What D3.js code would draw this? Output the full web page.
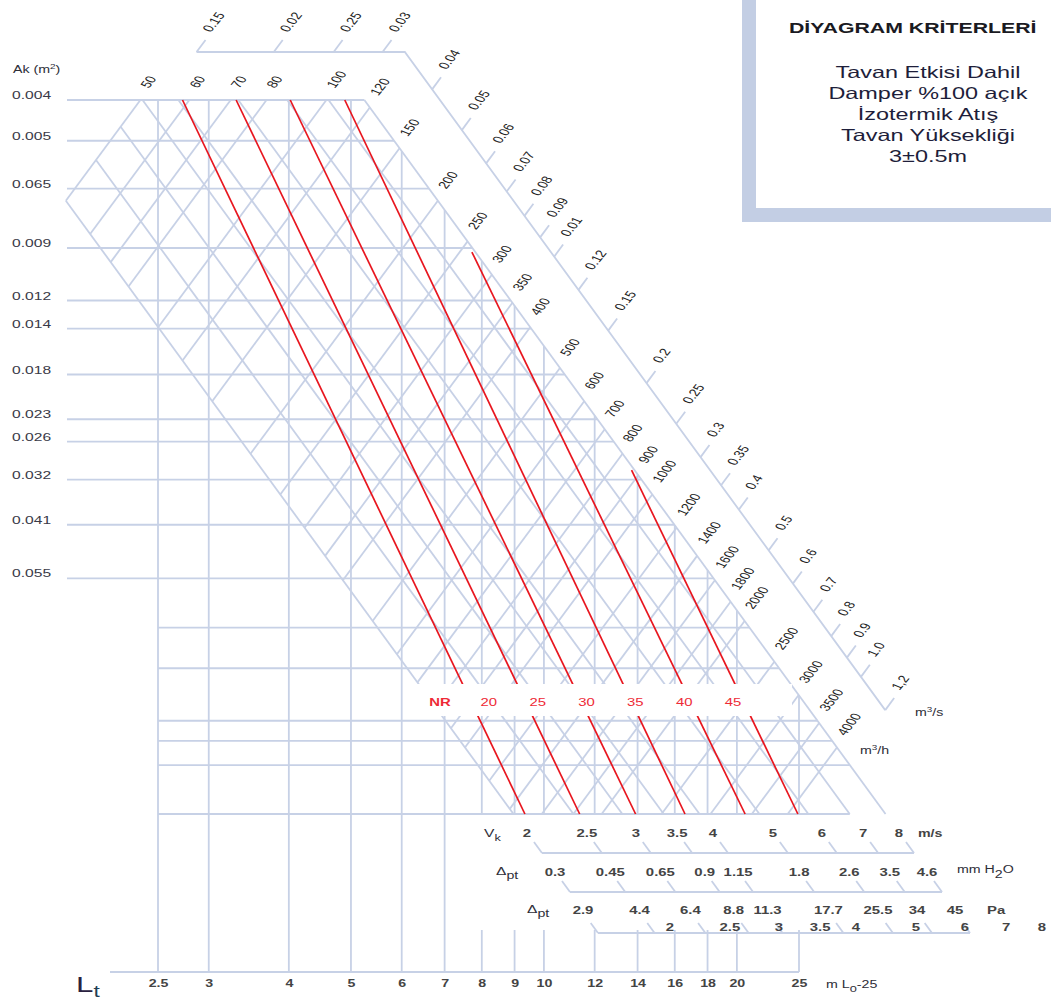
<!DOCTYPE html>
<html>
<head>
<meta charset="utf-8">
<script src="https://cdn.jsdelivr.net/npm/d3@7"></script>
<style>
  html, body { margin: 0; padding: 0; background: #ffffff; overflow: hidden; }
  svg { display: block; }
</style>
</head>
<body>
<svg id="chart" width="1051" height="1001"></svg>
<script>
// ---------------- data ----------------
// Outlet area Ak (m²): labelled horizontal lines
const akValues = [0.004, 0.005, 0.0065, 0.009, 0.012, 0.014, 0.018, 0.023, 0.026, 0.032, 0.041, 0.055];
const akLabels = ["0.004", "0.005", "0.065", "0.009", "0.012", "0.014", "0.018", "0.023", "0.026", "0.032", "0.041", "0.055"];
// unlabelled Ak lines in the lower part of the grid
const akMinor = [0.072, 0.09, 0.12, 0.134, 0.153, 0.2];
// Throw length Lt (m)
const ltValues = [2.5, 3, 4, 5, 6, 7, 8, 9, 10, 12, 14, 16, 18, 20, 25];
// Outlet velocity Vk (m/s)
const vkValues = [2, 2.5, 3, 3.5, 4, 5, 6, 7, 8];
// Air flow (m³/h)
const flowM3h = [50, 60, 70, 80, 100, 120, 150, 200, 250, 300, 350, 400, 500, 600, 700, 800, 900,
                 1000, 1200, 1400, 1600, 1800, 2000, 2500, 3000, 3500, 4000];
// Air flow (m³/s) on the outer scale, with the printed labels
const flowM3s = [0.015, 0.02, 0.025, 0.03, 0.04, 0.05, 0.06, 0.07, 0.08, 0.09, 0.1, 0.12, 0.15,
                 0.2, 0.25, 0.3, 0.35, 0.4, 0.5, 0.6, 0.7, 0.8, 0.9, 1.0, 1.2];
const flowM3sLabels = ["0.15", "0.02", "0.25", "0.03", "0.04", "0.05", "0.06", "0.07", "0.08", "0.09", "0.01",
                       "0.12", "0.15", "0.2", "0.25", "0.3", "0.35", "0.4", "0.5", "0.6", "0.7", "0.8",
                       "0.9", "1.0", "1,2"];
// Total pressure drop
const dpMmH2O = [0.3, 0.45, 0.65, 0.9, 1.15, 1.8, 2.6, 3.5, 4.6];
const dpPa = [2.9, 4.4, 6.4, 8.8, 11.3, 17.7, 25.5, 34, 45];
// Noise rating lines: start / end in (Lt, Ak)
const nrLevels = [20, 25, 30, 35, 40, 45];
const nrStartLt = [2.73, 3.31, 4.02, 4.89, 7.72, 13.7];
const nrStartAk = [0.004, 0.004, 0.004, 0.004, 0.0092, 0.0304];
const nrEndLt = [9.34, 11.37, 13.9, 16.6, 20.6, 24.9];
const nrEndAk = [0.2, 0.2, 0.2, 0.2, 0.2, 0.2];
// Criteria box
const boxTitle = "DİYAGRAM KRİTERLERİ";
const boxLines = ["Tavan Etkisi Dahil", "Damper %100 açık", "İzotermik Atış", "Tavan Yüksekliği", "3±0.5m"];

// ---------------- layout / style ----------------
const FONT = "'Liberation Sans', Arial, Helvetica, sans-serif";
const SX = 1.42;                 // horizontal text stretch
const GRID = "#c7d1e6";
const RED = "#e8161f";
const TXT = "#2e2e38";
const ROT = -60;                 // slanted scale labels
const VK_AXIS_Y = 853, VK_SLOPE = 1.37;
const MM_AXIS_Y = 892, PA_AXIS_Y = 933, LT_AXIS_Y = 972;
const AK_LINE_X0 = 67, LT_AXIS_X0 = 110, LOWER_STUB_Y = 930;
const LT_FULL_MAX = 7, LT_GRID_MAX = 30;
const OUTER_VK = 10.6, OUTER_TOP_Y = 52;
const BAND = { x0: 412, x1: 792, y0: 684, y1: 716 };

const svg = d3.select("#chart");

// scales
const x = d3.scaleLog().domain([2.5, 25]).range([158, 799]);        // Lt
const y = d3.scaleLog().domain([0.004, 0.2]).range([100, 814]);     // Ak
const vkX = d3.scaleLog().domain([2, 8]).range([542, 914]);         // Vk axis
const mmX = d3.scaleLog().domain([0.3, 4.6]).range([570, 942]);     // Δpt mm H2O
const paX = d3.scaleLog().domain([2.9, 45]).range([598, 970]);      // Δpt Pa
const akDomain = y.domain();
const vMin = d3.min(vkValues), vMax = d3.max(vkValues);

// geometry of the constant-velocity diagonals
const xOnVk = (v, py) => vkX(v) - (VK_AXIS_Y - py) / VK_SLOPE;
const yOnVk = (v, px) => VK_AXIS_Y - (vkX(v) - px) * VK_SLOPE;
const vkPoint = (v, a) => [xOnVk(v, y(a)), y(a)];
const atY = (p, q, yy) => { const t = (yy - p[1]) / (q[1] - p[1]); return [p[0] + t * (q[0] - p[0]), yy]; };

// a constant-flow line runs through the points where Ak = Q / (3600·Vk)
function flowEnds(q) {
  return [vkPoint(vMin, q / (3600 * vMin)), vkPoint(vMax, q / (3600 * vMax))];
}
function flowSegment(q) {
  const [p0, p1] = flowEnds(q);
  const yTop = y(akDomain[0]), yBot = y(akDomain[1]);
  const a = p0[1] > yBot ? atY(p0, p1, yBot) : p0;
  const b = p1[1] < yTop ? atY(p0, p1, yTop) : p1;
  return [a, b];
}
function unit(p, q) { const dx = q[0] - p[0], dy = q[1] - p[1], l = Math.hypot(dx, dy); return [dx / l, dy / l]; }

function stext(parent, px, py, str, o = {}) {
  const rot = o.rotate ? ` rotate(${o.rotate})` : "";
  return parent.append("text")
    .attr("transform", `translate(${px},${py}) scale(${SX},1)${rot}`)
    .attr("font-family", FONT)
    .attr("font-size", o.size || 10)
    .attr("font-weight", o.weight || "normal")
    .attr("fill", o.color || TXT)
    .attr("text-anchor", o.anchor || "start")
    .text(str);
}

// ---------------- grid ----------------
const grid = svg.append("g").attr("stroke", GRID).attr("stroke-width", 1.8).attr("fill", "none")
  .attr("stroke-linecap", "butt");

function hLine(a, x0) {
  const py = y(a);
  grid.append("line").attr("x1", x0).attr("x2", Math.min(xOnVk(vMax, py), x(LT_GRID_MAX)))
    .attr("y1", py).attr("y2", py);
}
akValues.forEach(a => hLine(a, AK_LINE_X0));
akMinor.forEach(a => hLine(a, x(ltValues[0])));

ltValues.forEach(l => {
  const px = x(l);
  const top = Math.max(y(akDomain[0]), yOnVk(vMax, px));
  if (l <= LT_FULL_MAX) {
    grid.append("line").attr("x1", px).attr("x2", px).attr("y1", top).attr("y2", LT_AXIS_Y);
  } else {
    grid.append("line").attr("x1", px).attr("x2", px).attr("y1", top).attr("y2", y(akDomain[1]));
    grid.append("line").attr("x1", px).attr("x2", px).attr("y1", LOWER_STUB_Y).attr("y2", LT_AXIS_Y);
  }
});

vkValues.forEach(v => {
  const aTop = Math.max(akDomain[0], flowM3h[0] / (3600 * v));
  const p0 = vkPoint(v, aTop), p1 = vkPoint(v, akDomain[1]);
  grid.append("line").attr("x1", p0[0]).attr("y1", p0[1]).attr("x2", p1[0]).attr("y2", p1[1]);
});

flowM3h.forEach(q => {
  const [a, b] = flowSegment(q);
  grid.append("line").attr("x1", a[0]).attr("y1", a[1]).attr("x2", b[0]).attr("y2", b[1]);
});

// outer m³/s scale: constant-flow lines carried out to a parallel of the Vk diagonals
function outerPoint(s) {
  const q = s * 3600;
  const p = vkPoint(OUTER_VK, q / (3600 * OUTER_VK));
  if (p[1] >= OUTER_TOP_Y) return p;
  const [p0, p1] = flowEnds(q);
  return atY(p0, p1, OUTER_TOP_Y);
}
const corner = [xOnVk(OUTER_VK, OUTER_TOP_Y), OUTER_TOP_Y];
const outerPath = [outerPoint(flowM3s[0]), corner, outerPoint(flowM3s[flowM3s.length - 1])];
grid.append("path").attr("d", d3.line()(outerPath));
flowM3s.forEach(s => {
  const p = outerPoint(s);
  const [p0, p1] = flowEnds(s * 3600);
  const d = unit(p0, p1);
  grid.append("line").attr("x1", p[0]).attr("y1", p[1]).attr("x2", p[0] + d[0] * 15).attr("y2", p[1] + d[1] * 15);
});

// ---------------- noise rating lines ----------------
const red = svg.append("g").attr("stroke", RED).attr("stroke-width", 1.7).attr("fill", "none");
nrLevels.forEach((n, i) => {
  red.append("line")
    .attr("x1", x(nrStartLt[i])).attr("y1", y(nrStartAk[i]))
    .attr("x2", x(nrEndLt[i])).attr("y2", y(nrEndAk[i]));
});

// label band for NR values
svg.append("rect").attr("x", BAND.x0).attr("y", BAND.y0)
  .attr("width", BAND.x1 - BAND.x0).attr("height", BAND.y1 - BAND.y0).attr("fill", "#ffffff");
const nrPos = d3.scalePoint().domain(["NR", ...nrLevels.map(String)]).range([440, 733]);
nrPos.domain().forEach(k => {
  stext(svg, nrPos(k), 706, k, { size: 10.5, anchor: "middle", color: "#ee2a36", weight: k === "NR" ? "bold" : "normal" });
});

// ---------------- labels ----------------
const labels = svg.append("g");

// Ak axis
const akTitle = labels.append("text")
  .attr("transform", `translate(13,73) scale(${SX},1)`)
  .attr("font-family", FONT).attr("font-size", 10).attr("fill", TXT);
akTitle.append("tspan").text("Ak (m");
akTitle.append("tspan").attr("font-size", 7).attr("dy", -4).text("2");
akTitle.append("tspan").attr("dy", 4).text(")");
akValues.forEach((a, i) => stext(labels, 12, y(a) - 1, akLabels[i], { size: 11, color: "#3a3a48" }));

// flow rate labels (m³/h) at the upper ends of the flow lines
flowM3h.forEach(q => {
  const [a, b] = flowSegment(q);
  const d = unit(a, b);
  stext(labels, b[0] + d[0] * 14, b[1] + d[1] * 14, String(q), { size: 10.5, rotate: ROT, color: "#222" });
});
const m3h = labels.append("text").attr("transform", `translate(860,754) scale(${SX},1)`)
  .attr("font-family", FONT).attr("font-size", 10).attr("fill", TXT);
m3h.append("tspan").text("m");
m3h.append("tspan").attr("font-size", 7).attr("dy", -4).text("3");
m3h.append("tspan").attr("dy", 4).text("/h");

// m³/s labels
flowM3s.forEach((s, i) => {
  const p = outerPoint(s);
  const [p0, p1] = flowEnds(s * 3600);
  const d = unit(p0, p1);
  stext(labels, p[0] + d[0] * 24, p[1] + d[1] * 24, flowM3sLabels[i], { size: 10.5, rotate: ROT, color: "#222" });
});
const m3s = labels.append("text").attr("transform", `translate(915,716) scale(${SX},1)`)
  .attr("font-family", FONT).attr("font-size", 10).attr("fill", TXT);
m3s.append("tspan").text("m");
m3s.append("tspan").attr("font-size", 7).attr("dy", -4).text("3");
m3s.append("tspan").attr("dy", 4).text("/s");

// ---------------- lower scales ----------------
const axes = svg.append("g");
const axLines = axes.append("g").attr("stroke", GRID).attr("stroke-width", 1.8).attr("fill", "none");

function slantTicks(scale, vals, baseY, h) {
  vals.forEach(v => {
    axLines.append("line").attr("x1", scale(v) - h / VK_SLOPE).attr("y1", baseY - h)
      .attr("x2", scale(v)).attr("y2", baseY);
  });
}

// Vk
axLines.append("line").attr("x1", vkX(vkValues[0])).attr("x2", vkX(vMax)).attr("y1", VK_AXIS_Y).attr("y2", VK_AXIS_Y);
slantTicks(vkX, vkValues, VK_AXIS_Y, 11);
vkValues.forEach(v => stext(axes, vkX(v) - 15, 837, String(v), { size: 10.5, anchor: "middle", weight: "bold", color: "#444" }));
stext(axes, 918, 837, "m/s", { size: 10, weight: "bold", color: "#444" });
const vkT = axes.append("text").attr("transform", `translate(484,837) scale(${SX},1)`)
  .attr("font-family", FONT).attr("font-size", 11).attr("fill", TXT);
vkT.append("tspan").text("V");
vkT.append("tspan").attr("font-size", 9).attr("dy", 4).text("k");

// Δpt mm H2O
axLines.append("line").attr("x1", mmX(dpMmH2O[0])).attr("x2", mmX(dpMmH2O[dpMmH2O.length - 1])).attr("y1", MM_AXIS_Y).attr("y2", MM_AXIS_Y);
slantTicks(mmX, dpMmH2O, MM_AXIS_Y, 11);
dpMmH2O.forEach(v => stext(axes, mmX(v) - 15, 876, String(v), { size: 10.5, anchor: "middle", weight: "bold", color: "#444" }));
const mmT = axes.append("text").attr("transform", `translate(957,873) scale(${SX},1)`)
  .attr("font-family", FONT).attr("font-size", 10).attr("fill", TXT);
mmT.append("tspan").text("mm H");
mmT.append("tspan").attr("dy", 5).text("2");
mmT.append("tspan").attr("dy", -5).text("O");

function dpTitle(px, py) {
  const t = axes.append("text").attr("transform", `translate(${px},${py}) scale(${SX},1)`)
    .attr("font-family", FONT).attr("font-size", 11).attr("fill", TXT);
  t.append("tspan").text("Δ");
  t.append("tspan").attr("font-size", 10).attr("dy", 4).text("pt");
}
dpTitle(496, 875);
dpTitle(527, 913);

// Δpt Pa
axLines.append("line").attr("x1", paX(dpPa[0])).attr("x2", paX(dpPa[dpPa.length - 1])).attr("y1", PA_AXIS_Y).attr("y2", PA_AXIS_Y);
slantTicks(paX, dpPa, PA_AXIS_Y, 10);
dpPa.forEach(v => stext(axes, paX(v) - 15, 914, String(v), { size: 10.5, anchor: "middle", weight: "bold", color: "#444" }));
stext(axes, 987, 914, "Pa", { size: 10.5, weight: "bold", color: "#444" });
// velocity figures repeated along the Pa line
vkValues.forEach(v => stext(axes, vkX(v) + 128, 931, String(v), { size: 10.5, anchor: "middle", weight: "bold", color: "#444" }));

// Lt axis
axLines.append("line").attr("x1", LT_AXIS_X0).attr("x2", x(ltValues[ltValues.length - 1])).attr("y1", LT_AXIS_Y).attr("y2", LT_AXIS_Y);
const ltAxis = d3.axisBottom(x).tickValues(ltValues).tickSize(0).tickPadding(8).tickFormat(d => String(d));
const gLt = axes.append("g").attr("transform", `translate(0,${LT_AXIS_Y})`).call(ltAxis);
gLt.select(".domain").remove();
gLt.selectAll("text").attr("transform", `scale(${SX},1)`).attr("font-family", FONT)
  .attr("font-size", 10).attr("font-weight", "bold").attr("fill", "#444");
const ltT = axes.append("text").attr("transform", `translate(76,992) scale(${SX},1)`)
  .attr("font-family", FONT).attr("font-size", 22).attr("fill", "#2a2140");
ltT.append("tspan").text("L");
ltT.append("tspan").attr("font-size", 16).attr("dy", 5).attr("fill", "#1f3f55").text("t");
const l0 = axes.append("text").attr("transform", `translate(826,988) scale(${SX},1)`)
  .attr("font-family", FONT).attr("font-size", 10).attr("fill", TXT);
l0.append("tspan").text("m L");
l0.append("tspan").attr("font-size", 9).attr("dy", 4).text("0");
l0.append("tspan").attr("dy", -4).text("-25");

// ---------------- criteria box ----------------
const box = svg.append("g");
box.append("rect").attr("x", 749).attr("y", -20).attr("width", 400).attr("height", 235)
  .attr("fill", "#ffffff").attr("stroke", "#c3cee4").attr("stroke-width", 14);
stext(box, 789, 33, boxTitle, { size: 15, weight: "bold", color: "#1a1a22" });
boxLines.forEach((t, i) => stext(box, 928, 78 + i * 21, t, { size: 16.5, anchor: "middle", color: "#1e1e3a" }));
</script>
</body>
</html>
